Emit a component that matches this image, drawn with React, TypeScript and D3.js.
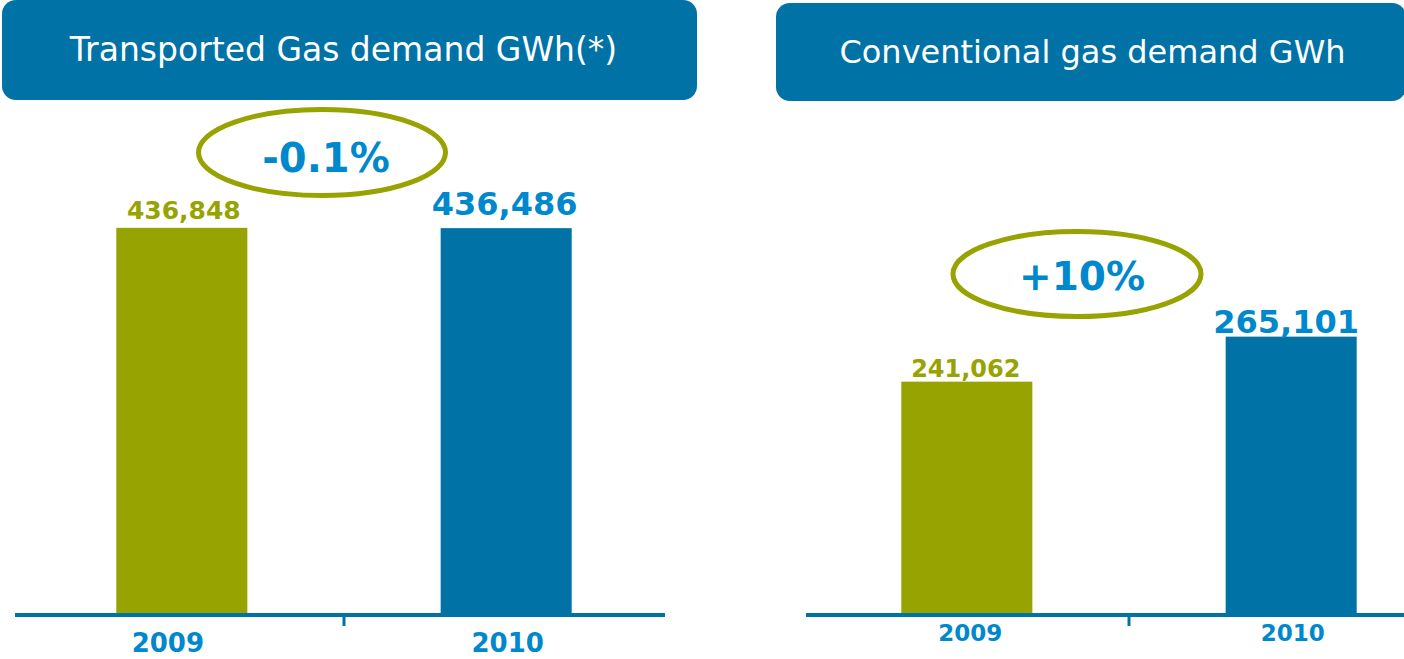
import React, { useEffect, useRef } from "react";
import * as d3 from "d3";

// chart values
const years = ["2009", "2010"];
const transportedGwh = [436848, 436486];
const conventionalGwh = [241062, 265101];
const panelTitles = ["Transported Gas demand GWh(*)", "Conventional gas demand GWh"];
const changeLabels = ["-0.1%", "+10%"];

const OLIVE = "#97a300";
const BAR_BLUE = "#0072a6";
const TEXT_BLUE = "#0088cc";
const FONT = "'DejaVu Sans', Verdana, sans-serif";

const App = () => {
  const svgRef = useRef<SVGSVGElement>(null);

  useEffect(() => {
    const svg = d3.select(svgRef.current);
    svg.selectAll("*").remove();

    const panels = [
      {
        title: panelTitles[0],
        values: transportedGwh,
        change: changeLabels[0],
        header: { x: 2, y: 0, w: 695, h: 100, tx: 343.5, ty: 61, size: 33 },
        xRange: [19, 669],
        axisX: [15, 665],
        yDomain: [0, 500000],
        yRange: [614, 172],
        ellipse: { cx: 322, cy: 152.5, rx: 123.5, ry: 43, tx: 326, ty: 172, size: 40 },
        valueSizes: [25, 32],
        valueGap: [9, 13],
        valueShift: [2, -1.5],
        yearSize: 26,
        yearY: 652,
        yearShift: [-14, 1.5],
      },
      {
        title: panelTitles[1],
        values: conventionalGwh,
        change: changeLabels[1],
        header: { x: 776, y: 3, w: 630, h: 98, tx: 1092.5, ty: 63, size: 32 },
        xRange: [804, 1454],
        axisX: [806, 1404],
        yDomain: [117000, 400000],
        yRange: [614, 84],
        ellipse: { cx: 1077, cy: 274, rx: 124, ry: 42.5, tx: 1082, ty: 290, size: 39 },
        valueSizes: [24, 32],
        valueGap: [5, 4],
        valueShift: [-1, -5],
        yearSize: 23,
        yearY: 641,
        yearShift: [3.5, 1.5],
      },
    ];

    panels.forEach((p) => {
      const g = svg.append("g");

      // header box
      g.append("rect")
        .attr("x", p.header.x)
        .attr("y", p.header.y)
        .attr("width", p.header.w)
        .attr("height", p.header.h)
        .attr("rx", 14)
        .attr("fill", BAR_BLUE);

      g.append("text")
        .attr("x", p.header.tx)
        .attr("y", p.header.ty)
        .attr("text-anchor", "middle")
        .attr("fill", "#fff")
        .style("font-family", FONT)
        .style("font-size", `${p.header.size}px`)
        .text(p.title);

      const x = d3.scaleBand().domain(years).range(p.xRange as [number, number]).paddingInner(0.596).paddingOuter(0.3);
      const y = d3.scaleLinear().domain(p.yDomain).range(p.yRange);

      const data = years.map((yr, i) => ({ year: yr, value: p.values[i], i }));

      g.selectAll(".bar")
        .data(data)
        .enter()
        .append("rect")
        .attr("x", (d) => x(d.year)!)
        .attr("y", (d) => y(d.value))
        .attr("width", x.bandwidth())
        .attr("height", (d) => y(p.yDomain[0]) - y(d.value))
        .attr("fill", (d) => (d.i === 0 ? OLIVE : BAR_BLUE));

      g.selectAll(".val")
        .data(data)
        .enter()
        .append("text")
        .attr("x", (d) => x(d.year)! + x.bandwidth() / 2 + p.valueShift[d.i])
        .attr("y", (d) => y(d.value) - p.valueGap[d.i])
        .attr("text-anchor", "middle")
        .attr("fill", (d) => (d.i === 0 ? OLIVE : TEXT_BLUE))
        .style("font-family", FONT)
        .style("font-weight", "bold")
        .style("font-size", (d) => `${p.valueSizes[d.i]}px`)
        .text((d) => d3.format(",")(d.value));

      // baseline axis with a tick between categories
      const base = y(p.yDomain[0]);
      g.append("line")
        .attr("x1", p.axisX[0])
        .attr("x2", p.axisX[1])
        .attr("y1", base + 1)
        .attr("y2", base + 1)
        .attr("stroke", BAR_BLUE)
        .attr("stroke-width", 4);

      const mid = (x(years[0])! + x(years[1])! + x.bandwidth()) / 2;
      g.append("line")
        .attr("x1", mid)
        .attr("x2", mid)
        .attr("y1", base + 1)
        .attr("y2", base + 12)
        .attr("stroke", BAR_BLUE)
        .attr("stroke-width", 3);

      g.selectAll(".year")
        .data(data)
        .enter()
        .append("text")
        .attr("x", (d) => x(d.year)! + x.bandwidth() / 2 + p.yearShift[d.i])
        .attr("y", p.yearY)
        .attr("text-anchor", "middle")
        .attr("fill", TEXT_BLUE)
        .style("font-family", FONT)
        .style("font-weight", "bold")
        .style("font-size", `${p.yearSize}px`)
        .text((d) => d.year);

      // change bubble
      g.append("ellipse")
        .attr("cx", p.ellipse.cx)
        .attr("cy", p.ellipse.cy)
        .attr("rx", p.ellipse.rx)
        .attr("ry", p.ellipse.ry)
        .attr("fill", "none")
        .attr("stroke", OLIVE)
        .attr("stroke-width", 5);

      g.append("text")
        .attr("x", p.ellipse.tx)
        .attr("y", p.ellipse.ty)
        .attr("text-anchor", "middle")
        .attr("fill", TEXT_BLUE)
        .style("font-family", FONT)
        .style("font-weight", "bold")
        .style("font-size", `${p.ellipse.size}px`)
        .text(p.change);
    });
  }, []);

  return (
    <svg
      ref={svgRef}
      width={1404}
      height={659}
      style={{ position: "absolute", left: 0, top: 0, background: "#fff" }}
    ></svg>
  );
};

export default App;
